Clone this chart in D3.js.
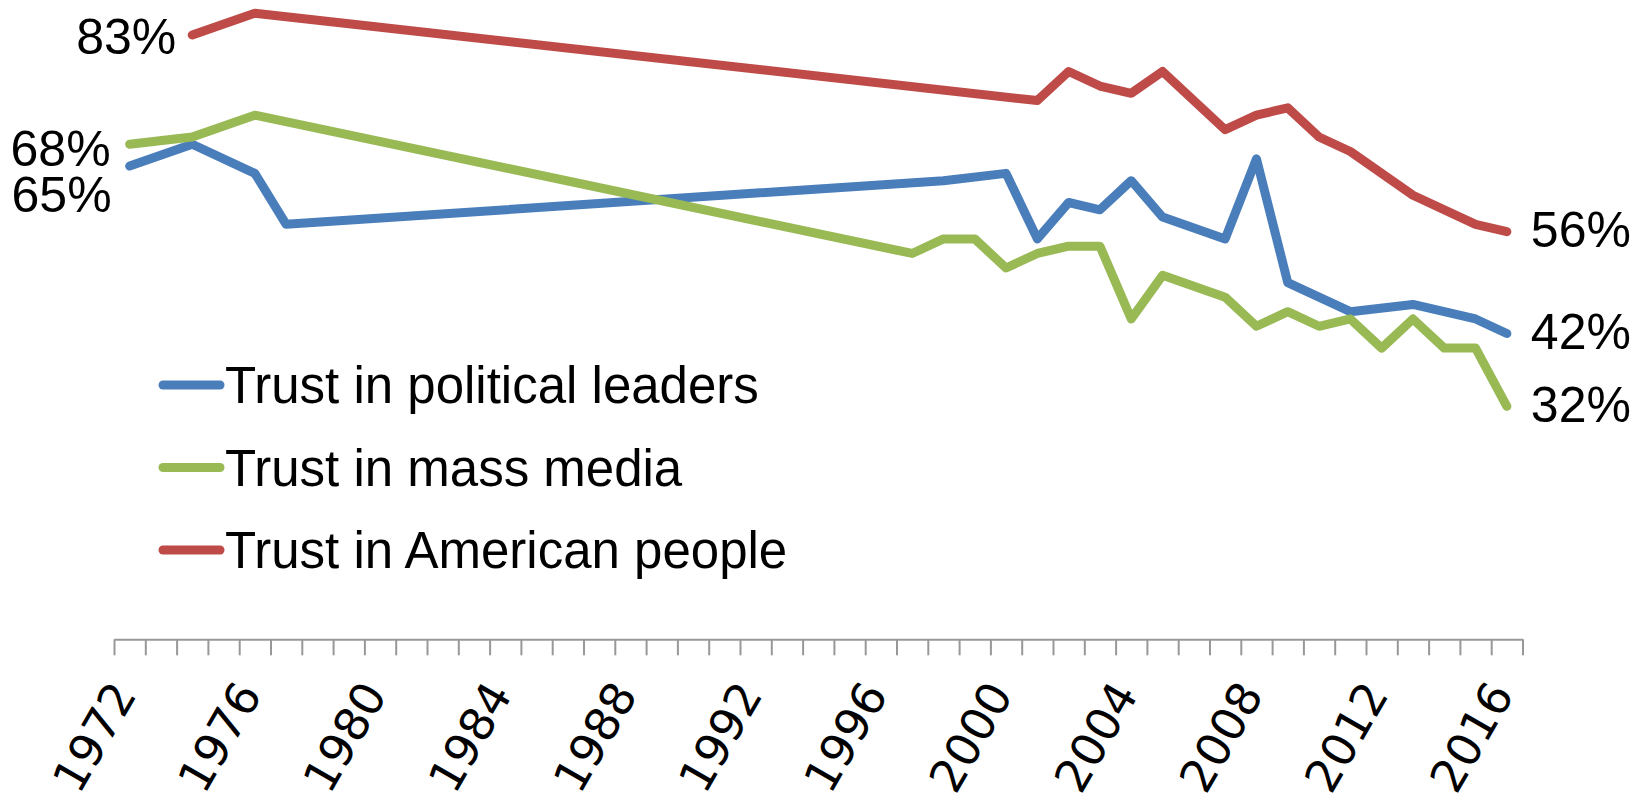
<!DOCTYPE html>
<html>
<head>
<meta charset="utf-8">
<script src="https://cdn.jsdelivr.net/npm/d3@7"></script>
<style>
  html, body { margin: 0; padding: 0; background: #ffffff; }
  svg { display: block; }
</style>
</head>
<body>
<svg id="chart" width="1636" height="804"></svg>
<script>
// Survey years shown on the category axis
const years = d3.range(1972, 2017);
const tickLabels = [1972, 1976, 1980, 1984, 1988, 1992, 1996, 2000, 2004, 2008, 2012, 2016];

// Trust in political leaders (%)
const leaderYears  = [1972, 1974, 1976, 1977, 1998, 2000, 2001, 2002, 2003, 2004, 2005, 2007, 2008, 2009, 2011, 2013, 2015, 2016];
const leaderValues = [65,   68,   64,   57,   63,   64,   55,   60,   59,   63,   58,   55,   66,   49,   45,   46,   44,   42];

// Trust in mass media (%)
const mediaYears  = [1972, 1974, 1976, 1997, 1998, 1999, 2000, 2001, 2002, 2003, 2004, 2005, 2007, 2008, 2009, 2010, 2011, 2012, 2013, 2014, 2015, 2016];
const mediaValues = [68,   69,   72,   53,   55,   55,   51,   53,   54,   54,   44,   50,   47,   43,   45,   43,   44,   40,   44,   40,   40,   32];

// Trust in American people (%)
const peopleYears  = [1974, 1976, 2001, 2002, 2003, 2004, 2005, 2007, 2008, 2009, 2010, 2011, 2013, 2015, 2016];
const peopleValues = [83,   86,   74,   78,   76,   75,   78,   70,   72,   73,   69,   67,   61,   57,   56];

const seriesNames  = ["Trust in political leaders", "Trust in mass media", "Trust in American people"];
const seriesColors = ["#4A7EBB", "#98B954", "#BE4B48"];

const series = [
  { name: seriesNames[0], color: seriesColors[0], pts: leaderYears.map((y, i) => ({ year: y, value: leaderValues[i] })) },
  { name: seriesNames[1], color: seriesColors[1], pts: mediaYears.map((y, i) => ({ year: y, value: mediaValues[i] })) },
  { name: seriesNames[2], color: seriesColors[2], pts: peopleYears.map((y, i) => ({ year: y, value: peopleValues[i] })) }
];

const svg = d3.select("#chart");
const axisY = 639.3;
const left = 114, right = 1522.5;

const x = d3.scaleBand().domain(years).range([left, right]).paddingInner(0).paddingOuter(0);
const xc = yr => x(yr) + x.bandwidth() / 2;
const y = d3.scaleLinear().domain([0, 100]).range([axisY, axisY - 728]);

// Category axis: ticks sit between categories
const edge = d3.scaleLinear().domain([1971.5, 2016.5]).range([left, right]);
const axis = d3.axisBottom(edge)
  .tickValues(d3.range(1971.5, 2017, 1))
  .tickSize(16)
  .tickSizeOuter(0)
  .tickFormat("");
const gAxis = svg.append("g").attr("transform", `translate(0,${axisY})`).call(axis);
gAxis.select(".domain").attr("stroke", "#989898").attr("stroke-width", 2);
gAxis.selectAll(".tick line").attr("stroke", "#989898").attr("stroke-width", 2);

// Rotated year labels
svg.append("g").selectAll("text")
  .data(tickLabels)
  .join("text")
  .attr("transform", d => `translate(${xc(d) - 6},${axisY + 47}) rotate(-60)`)
  .attr("text-anchor", "end")
  .attr("dy", "0.35em")
  .attr("font-family", "'DejaVu Sans', Verdana, sans-serif")
  .attr("font-size", 46)
  .attr("fill", "#000")
  .text(d => d);

// Series lines
const line = d3.line().x(d => xc(d.year)).y(d => y(d.value));
svg.append("g").selectAll("path")
  .data(series)
  .join("path")
  .attr("d", d => line(d.pts))
  .attr("fill", "none")
  .attr("stroke", d => d.color)
  .attr("stroke-width", 9)
  .attr("stroke-linecap", "round")
  .attr("stroke-linejoin", "round");

// Value labels at the first and last points
const labelFont = "'Liberation Sans', Arial, sans-serif";
const endLabels = [];
series.forEach(s => {
  const first = s.pts[0], last = s.pts[s.pts.length - 1];
  endLabels.push({ pt: first, side: "start", name: s.name });
  endLabels.push({ pt: last, side: "end", name: s.name });
});
// hand-placed offsets for the left-hand labels so they don't collide
const leftOffsets = {
  "Trust in political leaders": { dx: -18, dy: 46 },
  "Trust in mass media": { dx: -19, dy: 21.5 },
  "Trust in American people": { dx: -16, dy: 19 }
};
svg.append("g").selectAll("text")
  .data(endLabels)
  .join("text")
  .attr("x", d => d.side === "start" ? xc(d.pt.year) + leftOffsets[d.name].dx : xc(d.pt.year) + 24)
  .attr("y", d => d.side === "start" ? y(d.pt.value) + leftOffsets[d.name].dy : y(d.pt.value) + 15.5)
  .attr("text-anchor", d => d.side === "start" ? "end" : "start")
  .attr("font-family", labelFont)
  .attr("font-size", 50)
  .attr("fill", "#000")
  .text(d => d.pt.value + "%");

// Legend
const legendX = 163, legendY0 = 385, legendStep = 82.5;
const legend = svg.append("g").selectAll("g")
  .data(series)
  .join("g")
  .attr("transform", (d, i) => `translate(${legendX},${legendY0 + i * legendStep})`);
legend.append("line")
  .attr("x1", 0).attr("x2", 57)
  .attr("y1", 0).attr("y2", 0)
  .attr("stroke", d => d.color)
  .attr("stroke-width", 9)
  .attr("stroke-linecap", "round");
legend.append("text")
  .attr("x", 62)
  .attr("y", 18)
  .attr("font-family", labelFont)
  .attr("font-size", 51)
  .attr("fill", "#000")
  .text(d => d.name);
</script>
</body>
</html>
